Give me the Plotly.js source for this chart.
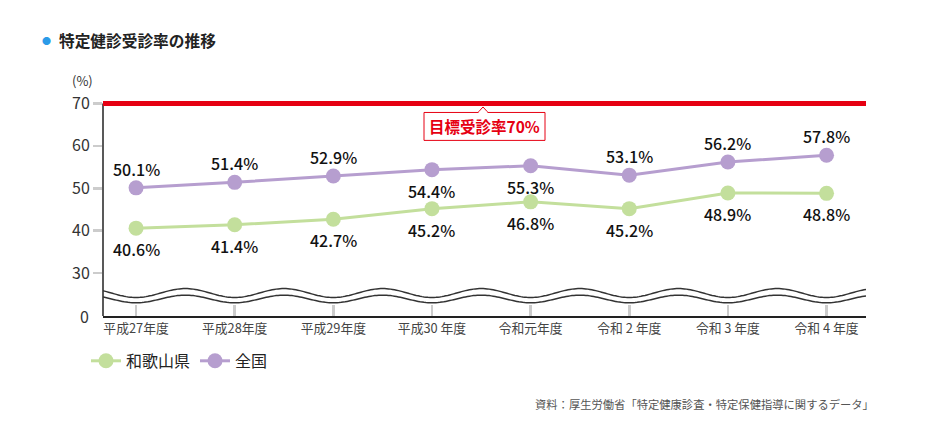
<!DOCTYPE html>
<html><head><meta charset="utf-8">
<script src="https://cdn.plot.ly/plotly-3.0.1.min.js"></script>
<style>html,body{margin:0;padding:0;background:#fff}#chart{width:940px;height:439px}</style>
</head><body><div id="chart"></div>
<script>
const categories = ["平成27年度","平成28年度","平成29年度","平成30 年度","令和元年度","令和 2 年度","令和 3 年度","令和 4 年度"];
const wakayama = [40.6, 41.4, 42.7, 45.2, 46.8, 45.2, 48.9, 48.8];
const zenkoku = [50.1, 51.4, 52.9, 54.4, 55.3, 53.1, 56.2, 57.8];
const zenkokuLabelPos = ["above","above","above","below","below","above","above","above"];
const wakayamaLabelPos = ["below","below","below","below","below","below","below","below"];
const target = 70;
const yTicks = [30, 40, 50, 60, 70];

const FONT = "'Noto Sans CJK JP', 'Noto Sans', sans-serif";
const GREEN = "#c3df9c", PURPLE = "#b69ecf", RED = "#e60012";
const yBottom = 19.88, yTop = 72;
const xs = categories.map((c, i) => i);

// pixel helpers for decorative placement (plot area: x 103..866, y 94.5..316)
const PX = px => (px - 103) / 763;
const PY = py => (316 - py) / 221.5;

const traces = [
  {name:"和歌山県", x: xs, y: wakayama, mode:"lines+markers", line:{color:GREEN, width:3}, marker:{color:GREEN, size:15}, hoverinfo:"skip"},
  {name:"全国", x: xs, y: zenkoku, mode:"lines+markers", line:{color:PURPLE, width:3}, marker:{color:PURPLE, size:15}, hoverinfo:"skip"}
];

const annotations = [];
function addLabels(vals, pos) {
  vals.forEach((v, i) => annotations.push({
    x: i, y: v, xref:"x", yref:"y", text: v.toFixed(1) + "%", showarrow:false,
    xanchor:"center", yanchor:"middle",
    yshift: pos[i] === "above" ? 19 : -21,
    font:{family:FONT, size:16, color:"#111", weight:500}
  }));
}
addLabels(zenkoku, zenkokuLabelPos);
addLabels(wakayama, wakayamaLabelPos);

annotations.push(
  {xref:"paper", yref:"paper", x:PX(82), y:PY(80), xanchor:"center", yanchor:"middle", text:"(%)", showarrow:false, font:{family:FONT, size:13, color:"#333"}},
  {xref:"paper", yref:"y", x:PX(91), y:yBottom, xanchor:"right", yanchor:"middle", text:"0", showarrow:false, font:{family:FONT, size:16, color:"#333"}},
  {xref:"paper", yref:"paper", x:PX(46), y:PY(40), xanchor:"center", yanchor:"middle", text:"●", showarrow:false, font:{family:FONT, size:9, color:"#2b9be8"}},
  {xref:"paper", yref:"paper", x:PX(57), xanchor:"left", y:PY(40), yanchor:"middle", text:"特定健診受診率の推移", showarrow:false, font:{family:FONT, size:15.7, color:"#222", weight:700}},
  {xref:"paper", yref:"paper", x:PX(484.5), y:PY(126), xanchor:"center", yanchor:"middle", text:"目標受診率70%", showarrow:false, font:{family:FONT, size:15.5, color:RED, weight:700}},
  {xref:"paper", yref:"paper", x:PX(876), xanchor:"right", y:PY(404), yanchor:"middle", text:"資料：厚生労働省「特定健康診査・特定保健指導に関するデータ」", showarrow:false, font:{family:FONT, size:11.3, color:"#555"}}
);

function wave(center, amp) {
  let d = "";
  for (let x = -0.34; x <= 7.41; x += 0.02) {
    const y = center - amp * Math.cos(2 * Math.PI * x);
    d += (d ? " L" : "M") + x.toFixed(3) + "," + y.toFixed(3);
  }
  return d;
}

const shapes = [
  {type:"line", xref:"paper", yref:"y", x0:0, x1:0, y0:yBottom, y1:target, line:{color:"#222", width:1.5}},
  {type:"line", xref:"paper", yref:"y", x0:0, x1:1, y0:target, y1:target, line:{color:RED, width:5}},
  {type:"path", xref:"x", yref:"y", path: wave(25.3, 1.05), line:{color:"#333", width:1.5}},
  {type:"path", xref:"x", yref:"y", path: wave(23.9, 0.9), line:{color:"#333", width:1.5}},
  // callout box for the target label
  {type:"rect", xref:"paper", yref:"paper", x0:PX(424), x1:PX(545), y0:PY(140), y1:PY(112), fillcolor:"#fff", line:{color:RED, width:1}, layer:"above"},
  {type:"path", xref:"paper", yref:"paper", path:`M${PX(478)},${PY(112)} L${PX(483)},${PY(106.5)} L${PX(488)},${PY(112)}`, fillcolor:"#fff", line:{color:RED, width:1}, layer:"above"},
  {type:"line", xref:"paper", yref:"paper", x0:PX(478.8), x1:PX(487.2), y0:PY(112), y1:PY(112), line:{color:"#fff", width:1.6}, layer:"above"}
];

const layout = {
  width:940, height:439,
  margin:{l:103, r:74, t:94.5, b:123},
  paper_bgcolor:"#fff", plot_bgcolor:"#fff",
  showlegend:true,
  legend:{orientation:"h", x:PX(86), y:PY(361), xanchor:"left", yanchor:"middle", font:{family:FONT, size:16, color:"#222"}, itemwidth:30, tracegroupgap:0},
  xaxis:{range:[-0.335, 7.4], tickvals:xs, ticktext:categories, showgrid:false, zeroline:false,
    showline:true, linecolor:"#222", linewidth:1.5, ticks:"inside", ticklen:11, tickwidth:2.5, tickcolor:"#ccc",
    tickfont:{family:FONT, size:12.8, color:"#444"}, fixedrange:true},
  yaxis:{range:[yBottom, yTop], tickvals:yTicks, showgrid:false, zeroline:false, showline:false,
    ticks:"outside", ticklen:9, tickwidth:2.5, tickcolor:"#ccc",
    tickfont:{family:FONT, size:16, color:"#333"}, fixedrange:true},
  annotations, shapes
};

Plotly.newPlot("chart", traces, layout, {displayModeBar:false, staticPlot:true});
</script></body></html>
